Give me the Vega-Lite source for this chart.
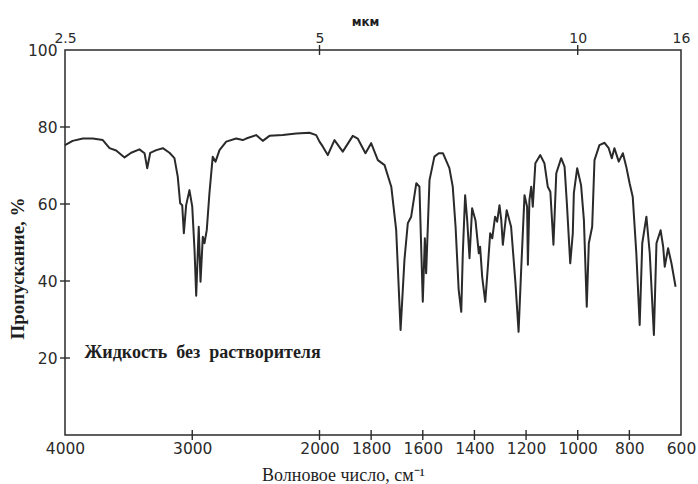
{
  "$schema": "https://vega.github.io/schema/vega-lite/v6.json",
  "autosize": {"type": "none"},
  "padding": {"left": 65, "top": 50, "right": 17, "bottom": 49},
  "width": 616,
  "height": 385,
  "background": "white",
  "config": {
    "view": {"stroke": "#2b2b2b", "strokeWidth": 1.5},
    "axis": {"domain": false, "grid": false, "ticks": false, "labelFont": "DejaVu Sans", "labelColor": "#2b2b2b", "titleColor": "#1e1e1e", "labelFlush": false, "labelOverlap": false}
  },
  "datasets": {
    "spectrum": [
      {"wn": 4000, "t": 75.3}, {"wn": 3940, "t": 76.4}, {"wn": 3860, "t": 77.0}, {"wn": 3782, "t": 77.0},
      {"wn": 3703, "t": 76.6}, {"wn": 3650, "t": 74.5}, {"wn": 3598, "t": 73.9}, {"wn": 3532, "t": 72.1},
      {"wn": 3480, "t": 73.3}, {"wn": 3415, "t": 74.2}, {"wn": 3375, "t": 73.2}, {"wn": 3354, "t": 69.3},
      {"wn": 3330, "t": 73.3}, {"wn": 3283, "t": 74.0}, {"wn": 3231, "t": 74.5}, {"wn": 3179, "t": 73.3},
      {"wn": 3140, "t": 71.9}, {"wn": 3114, "t": 67.1}, {"wn": 3095, "t": 60.2}, {"wn": 3079, "t": 59.7},
      {"wn": 3066, "t": 52.4}, {"wn": 3048, "t": 59.7}, {"wn": 3022, "t": 63.6}, {"wn": 3000, "t": 59.3},
      {"wn": 2982, "t": 48.0}, {"wn": 2969, "t": 36.2}, {"wn": 2949, "t": 54.1}, {"wn": 2935, "t": 39.8},
      {"wn": 2917, "t": 51.5}, {"wn": 2904, "t": 49.8}, {"wn": 2886, "t": 53.2}, {"wn": 2865, "t": 62.8},
      {"wn": 2839, "t": 72.3}, {"wn": 2817, "t": 71.0}, {"wn": 2786, "t": 74.0}, {"wn": 2733, "t": 76.2},
      {"wn": 2655, "t": 77.0}, {"wn": 2603, "t": 76.6}, {"wn": 2576, "t": 77.0}, {"wn": 2498, "t": 77.9},
      {"wn": 2446, "t": 76.4}, {"wn": 2393, "t": 77.7}, {"wn": 2289, "t": 77.9}, {"wn": 2183, "t": 78.3},
      {"wn": 2079, "t": 78.5}, {"wn": 2026, "t": 77.9}, {"wn": 2000, "t": 76.2}, {"wn": 1987, "t": 74.9},
      {"wn": 1968, "t": 72.7}, {"wn": 1942, "t": 76.6}, {"wn": 1910, "t": 73.6}, {"wn": 1871, "t": 77.7},
      {"wn": 1852, "t": 77.0}, {"wn": 1822, "t": 73.2}, {"wn": 1800, "t": 75.8}, {"wn": 1774, "t": 71.4},
      {"wn": 1748, "t": 70.1}, {"wn": 1722, "t": 64.5}, {"wn": 1703, "t": 53.2}, {"wn": 1686, "t": 27.3},
      {"wn": 1671, "t": 45.5}, {"wn": 1658, "t": 55.0}, {"wn": 1645, "t": 56.7}, {"wn": 1625, "t": 65.4},
      {"wn": 1613, "t": 64.5}, {"wn": 1600, "t": 34.6}, {"wn": 1592, "t": 51.1}, {"wn": 1587, "t": 42.0},
      {"wn": 1574, "t": 66.2}, {"wn": 1555, "t": 72.3}, {"wn": 1538, "t": 73.2}, {"wn": 1522, "t": 73.2},
      {"wn": 1497, "t": 69.3}, {"wn": 1484, "t": 64.5}, {"wn": 1473, "t": 54.1}, {"wn": 1461, "t": 37.7},
      {"wn": 1451, "t": 32.0}, {"wn": 1445, "t": 47.2}, {"wn": 1436, "t": 62.3}, {"wn": 1428, "t": 55.8},
      {"wn": 1419, "t": 45.9}, {"wn": 1409, "t": 58.9}, {"wn": 1396, "t": 55.8}, {"wn": 1383, "t": 47.2},
      {"wn": 1378, "t": 48.9}, {"wn": 1370, "t": 41.1}, {"wn": 1358, "t": 34.6}, {"wn": 1348, "t": 43.7},
      {"wn": 1339, "t": 52.4}, {"wn": 1331, "t": 51.1}, {"wn": 1320, "t": 56.7}, {"wn": 1312, "t": 55.4},
      {"wn": 1303, "t": 59.7}, {"wn": 1296, "t": 55.8}, {"wn": 1290, "t": 49.4}, {"wn": 1275, "t": 58.4},
      {"wn": 1258, "t": 54.1}, {"wn": 1241, "t": 39.4}, {"wn": 1229, "t": 26.8}, {"wn": 1219, "t": 42.9},
      {"wn": 1206, "t": 62.3}, {"wn": 1196, "t": 59.3}, {"wn": 1193, "t": 44.2}, {"wn": 1187, "t": 61.0},
      {"wn": 1180, "t": 64.5}, {"wn": 1174, "t": 59.3}, {"wn": 1164, "t": 70.6}, {"wn": 1145, "t": 72.7},
      {"wn": 1129, "t": 70.6}, {"wn": 1116, "t": 64.5}, {"wn": 1106, "t": 63.2}, {"wn": 1094, "t": 49.4},
      {"wn": 1083, "t": 68.0}, {"wn": 1064, "t": 71.9}, {"wn": 1051, "t": 69.7}, {"wn": 1042, "t": 60.2},
      {"wn": 1029, "t": 44.6}, {"wn": 1019, "t": 52.4}, {"wn": 1015, "t": 62.8}, {"wn": 1002, "t": 69.3},
      {"wn": 987, "t": 64.9}, {"wn": 976, "t": 55.8}, {"wn": 965, "t": 33.3}, {"wn": 957, "t": 49.8},
      {"wn": 944, "t": 54.1}, {"wn": 935, "t": 71.4}, {"wn": 916, "t": 75.3}, {"wn": 896, "t": 75.9},
      {"wn": 880, "t": 74.5}, {"wn": 868, "t": 71.9}, {"wn": 858, "t": 74.5}, {"wn": 841, "t": 71.0},
      {"wn": 825, "t": 73.2}, {"wn": 812, "t": 69.7}, {"wn": 799, "t": 65.4}, {"wn": 787, "t": 61.9},
      {"wn": 773, "t": 47.2}, {"wn": 760, "t": 28.6}, {"wn": 750, "t": 49.8}, {"wn": 734, "t": 56.7},
      {"wn": 721, "t": 47.2}, {"wn": 705, "t": 26.0}, {"wn": 695, "t": 49.8}, {"wn": 679, "t": 53.2},
      {"wn": 669, "t": 48.9}, {"wn": 663, "t": 43.7}, {"wn": 650, "t": 48.5}, {"wn": 637, "t": 44.6},
      {"wn": 621, "t": 38.5}
    ],
    "note": [{"wn": 3847, "t": 21.3, "label": "Жидкость\u00a0\u00a0без\u00a0\u00a0растворителя"}],
    "vticks": [
      {"wn": 3000, "t": 0}, {"wn": 2000, "t": 0}, {"wn": 1800, "t": 0}, {"wn": 1600, "t": 0},
      {"wn": 1400, "t": 0}, {"wn": 1200, "t": 0}, {"wn": 1000, "t": 0}, {"wn": 800, "t": 0},
      {"wn": 2000, "t": 100}, {"wn": 1000, "t": 100}
    ],
    "hticks": [{"wn": 4000, "t": 20}, {"wn": 4000, "t": 40}, {"wn": 4000, "t": 60}, {"wn": 4000, "t": 80}]
  },
  "layer": [
    {
      "data": {"name": "spectrum"},
      "mark": {"type": "line", "color": "#2a2a2a", "strokeWidth": 2, "strokeJoin": "round"},
      "encoding": {
        "x": {
          "field": "wn", "type": "quantitative",
          "scale": {"domain": [4000, 2000, 600], "range": [0, 254.5, 616], "zero": false, "nice": false},
          "axis": {
            "orient": "bottom",
            "values": [4000, 3000, 2000, 1800, 1600, 1400, 1200, 1000, 800, 600],
            "format": "d",
            "labelPadding": 6, "labelFontSize": 15.5,
            "title": "Волновое число, см⁻¹",
            "titleFont": "Liberation Serif", "titleFontSize": 18, "titleFontWeight": "normal",
            "titleX": 278, "titleY": 40, "titleAnchor": "middle", "titleAlign": "center", "titleBaseline": "middle"
          }
        },
        "y": {
          "field": "t", "type": "quantitative",
          "scale": {"domain": [0, 100], "zero": false, "nice": false},
          "axis": {
            "values": [20, 40, 60, 80, 100],
            "labelPadding": 8, "labelFontSize": 15.5,
            "title": "Пропускание, %",
            "titleFont": "Liberation Serif", "titleFontSize": 19, "titleFontWeight": "bold",
            "titleX": -48, "titleY": 218, "titleAngle": 270, "titleAlign": "center", "titleBaseline": "middle"
          }
        }
      }
    },
    {
      "data": {"name": "note"},
      "mark": {"type": "text", "align": "left", "baseline": "middle", "font": "Liberation Serif", "fontSize": 18, "fontWeight": "bold", "color": "#1e1e1e"},
      "encoding": {
        "x": {
          "field": "wn", "type": "quantitative",
          "axis": {
            "orient": "top",
            "values": [4000, 2000, 1000, 600],
            "labelExpr": "datum.value == 4000 ? '2.5' : datum.value == 2000 ? '5' : datum.value == 1000 ? '10' : '16'",
            "labelPadding": 5, "labelFontSize": 14,
            "title": "мкм",
            "titleFont": "DejaVu Sans", "titleFontSize": 12, "titleFontWeight": "bold",
            "titleX": 300, "titleY": -29, "titleAlign": "center", "titleBaseline": "middle"
          }
        },
        "y": {"field": "t", "type": "quantitative", "axis": null},
        "text": {"field": "label"}
      }
    },
    {
      "data": {"name": "vticks"},
      "mark": {"type": "tick", "orient": "vertical", "size": 10, "thickness": 1.4, "color": "#2b2b2b", "opacity": 1},
      "encoding": {
        "x": {"field": "wn", "type": "quantitative", "axis": null},
        "y": {"field": "t", "type": "quantitative", "axis": null}
      }
    },
    {
      "data": {"name": "hticks"},
      "mark": {"type": "tick", "orient": "horizontal", "size": 10, "thickness": 1.4, "color": "#2b2b2b", "opacity": 1},
      "encoding": {
        "x": {"field": "wn", "type": "quantitative", "axis": null},
        "y": {"field": "t", "type": "quantitative", "axis": null}
      }
    }
  ],
  "resolve": {"axis": {"x": "independent", "y": "independent"}}
}
